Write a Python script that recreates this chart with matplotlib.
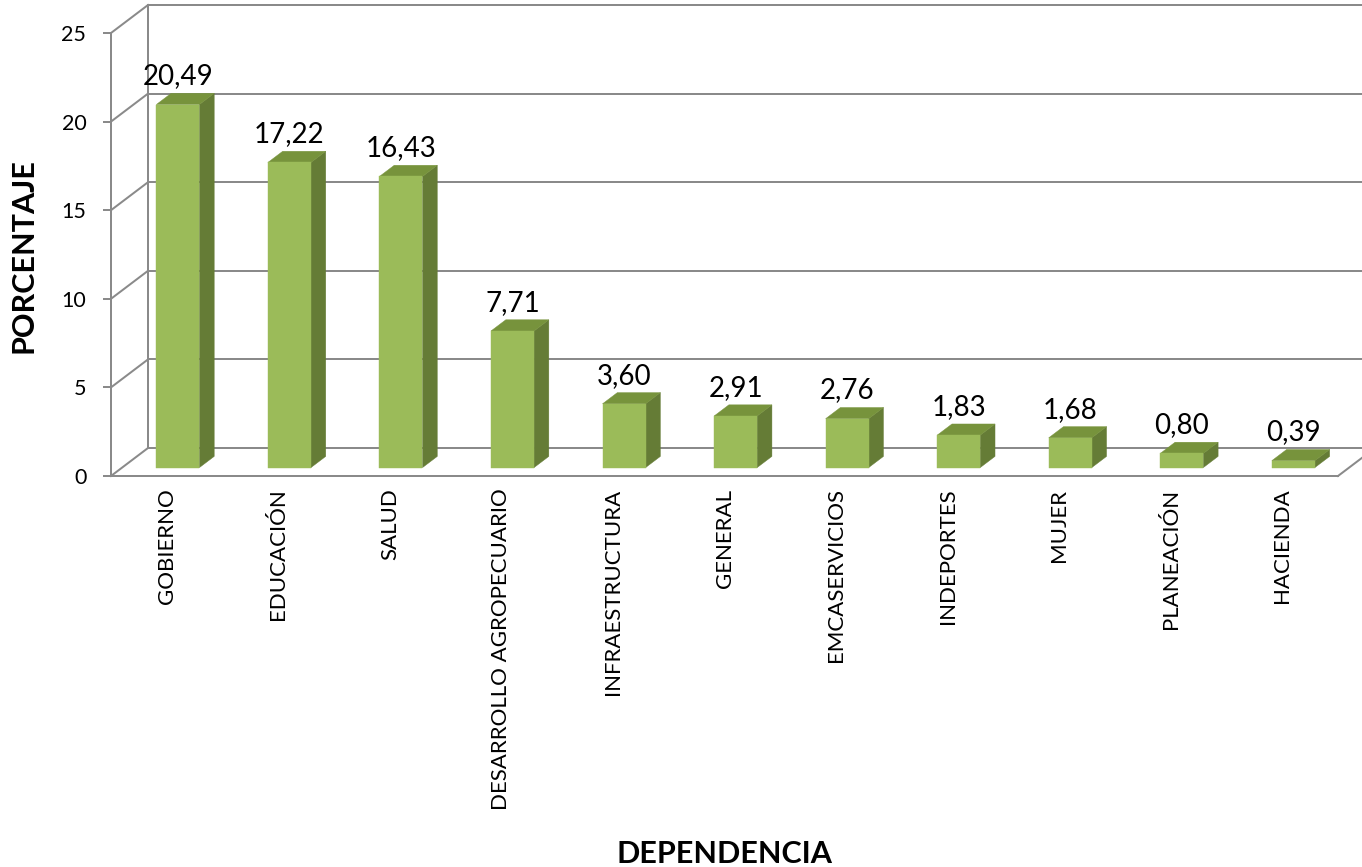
import numpy as np
import matplotlib
matplotlib.use("Agg")
import matplotlib.pyplot as plt
from matplotlib.patches import Polygon

# ---------------- data ----------------
categories = ["GOBIERNO", "EDUCACIÓN", "SALUD", "DESARROLLO AGROPECUARIO",
              "INFRAESTRUCTURA", "GENERAL", "EMCASERVICIOS", "INDEPORTES",
              "MUJER", "PLANEACIÓN", "HACIENDA"]
values = [20.49, 17.22, 16.43, 7.71, 3.60, 2.91, 2.76, 1.83, 1.68, 0.80, 0.39]
y_ticks = [0, 5, 10, 15, 20, 25]
y_title = "PORCENTAJE"
x_title = "DEPENDENCIA"

# ---------------- style ----------------
plt.rcParams['font.family'] = ['Lato', 'DejaVu Sans']
FRONT = "#9BBB59"
TOP = "#77933C"
SIDE = "#657C36"
GRID = "#8A8A8A"
LW = 1.44

W, H, DPI = 1362, 867, 100
fig = plt.figure(figsize=(W / DPI, H / DPI), dpi=DPI)
fig.patch.set_facecolor("white")

left_px, right_px, bottom_px, top_px = 111, 1338, 476, 33
ax = fig.add_axes([left_px / W, 1 - bottom_px / H,
                   (right_px - left_px) / W, (bottom_px - top_px) / H])
n = len(categories)
ymax = y_ticks[-1]
ax.set_xlim(0, n)
ax.set_ylim(0, ymax)
ax.patch.set_alpha(0)

px_per_x = (right_px - left_px) / n
px_per_y = (bottom_px - top_px) / ymax
DEPTH_DX = 37 / px_per_x
DEPTH_DY = 28 / px_per_y


def proj(x, y, d):
    return (x + d * DEPTH_DX, y + d * DEPTH_DY)


# ---------------- walls / grid ----------------
for v in y_ticks:
    bx0, by = proj(0, v, 1)
    bx1, _ = proj(n + 1, v, 1)
    ax.plot([bx0, bx1], [by, by], color=GRID, lw=LW, clip_on=False, zorder=1)
    fx, fy = proj(0, v, 0)
    ax.plot([fx, bx0], [fy, by], color=GRID, lw=LW, clip_on=False, zorder=1)

p0 = proj(0, 0, 1)
p1 = proj(0, ymax, 1)
ax.plot([p0[0], p1[0]], [p0[1], p1[1]], color=GRID, lw=LW, clip_on=False, zorder=1)
q0 = proj(n, 0, 0)
q1 = proj(n, 0, 1)
ax.plot([q0[0], q1[0]], [q0[1], q1[1]], color=GRID, lw=LW, clip_on=False, zorder=1)

# ---------------- bars ----------------
bw = 0.386
d0, d1 = 0.3, 0.7
for i, h in enumerate(values):
    xc = i + 0.5
    x0, x1 = xc - bw / 2, xc + bw / 2
    front = [proj(x0, 0, d0), proj(x1, 0, d0), proj(x1, h, d0), proj(x0, h, d0)]
    top = [proj(x0, h, d0), proj(x1, h, d0), proj(x1, h, d1), proj(x0, h, d1)]
    side = [proj(x1, 0, d0), proj(x1, 0, d1), proj(x1, h, d1), proj(x1, h, d0)]
    for pts, col in ((side, SIDE), (top, TOP), (front, FRONT)):
        ax.add_patch(Polygon(pts, closed=True, facecolor=col, edgecolor=col,
                             lw=0.3, clip_on=False, zorder=3))
    lx = proj(xc, h, d0)[0]
    ly = proj(xc, h, d1)[1]
    ax.annotate(f"{h:.2f}".replace(".", ","), xy=(lx, ly), xytext=(0, 6.5),
                textcoords="offset points", ha="center", va="baseline",
                fontsize=20, color="black", zorder=4, annotation_clip=False)

# ---------------- axes ----------------
for s in ("top", "right"):
    ax.spines[s].set_visible(False)
for s in ("left", "bottom"):
    ax.spines[s].set_color(GRID)
    ax.spines[s].set_linewidth(LW)
    ax.spines[s].set_zorder(2)

ax.set_yticks(y_ticks)
ax.set_yticklabels([str(t) for t in y_ticks])
ax.tick_params(axis="y", direction="out", length=5.8, width=LW, color=GRID,
               pad=12, labelsize=15.5)
ax.set_xticks(np.arange(n) + 0.5)
ax.set_xticklabels(categories, rotation=90, fontsize=16)
ax.tick_params(axis="x", length=0, pad=9)

fig.text(33 / W, 1 - 256 / H, y_title, rotation=90, rotation_mode="anchor",
         ha="center", va="baseline", fontsize=22, fontweight="bold")
fig.text(724 / W, 1 - 863 / H, x_title, ha="center", va="baseline",
         fontsize=22, fontweight="bold")

fig.savefig("out.png", dpi=DPI, facecolor="white")
